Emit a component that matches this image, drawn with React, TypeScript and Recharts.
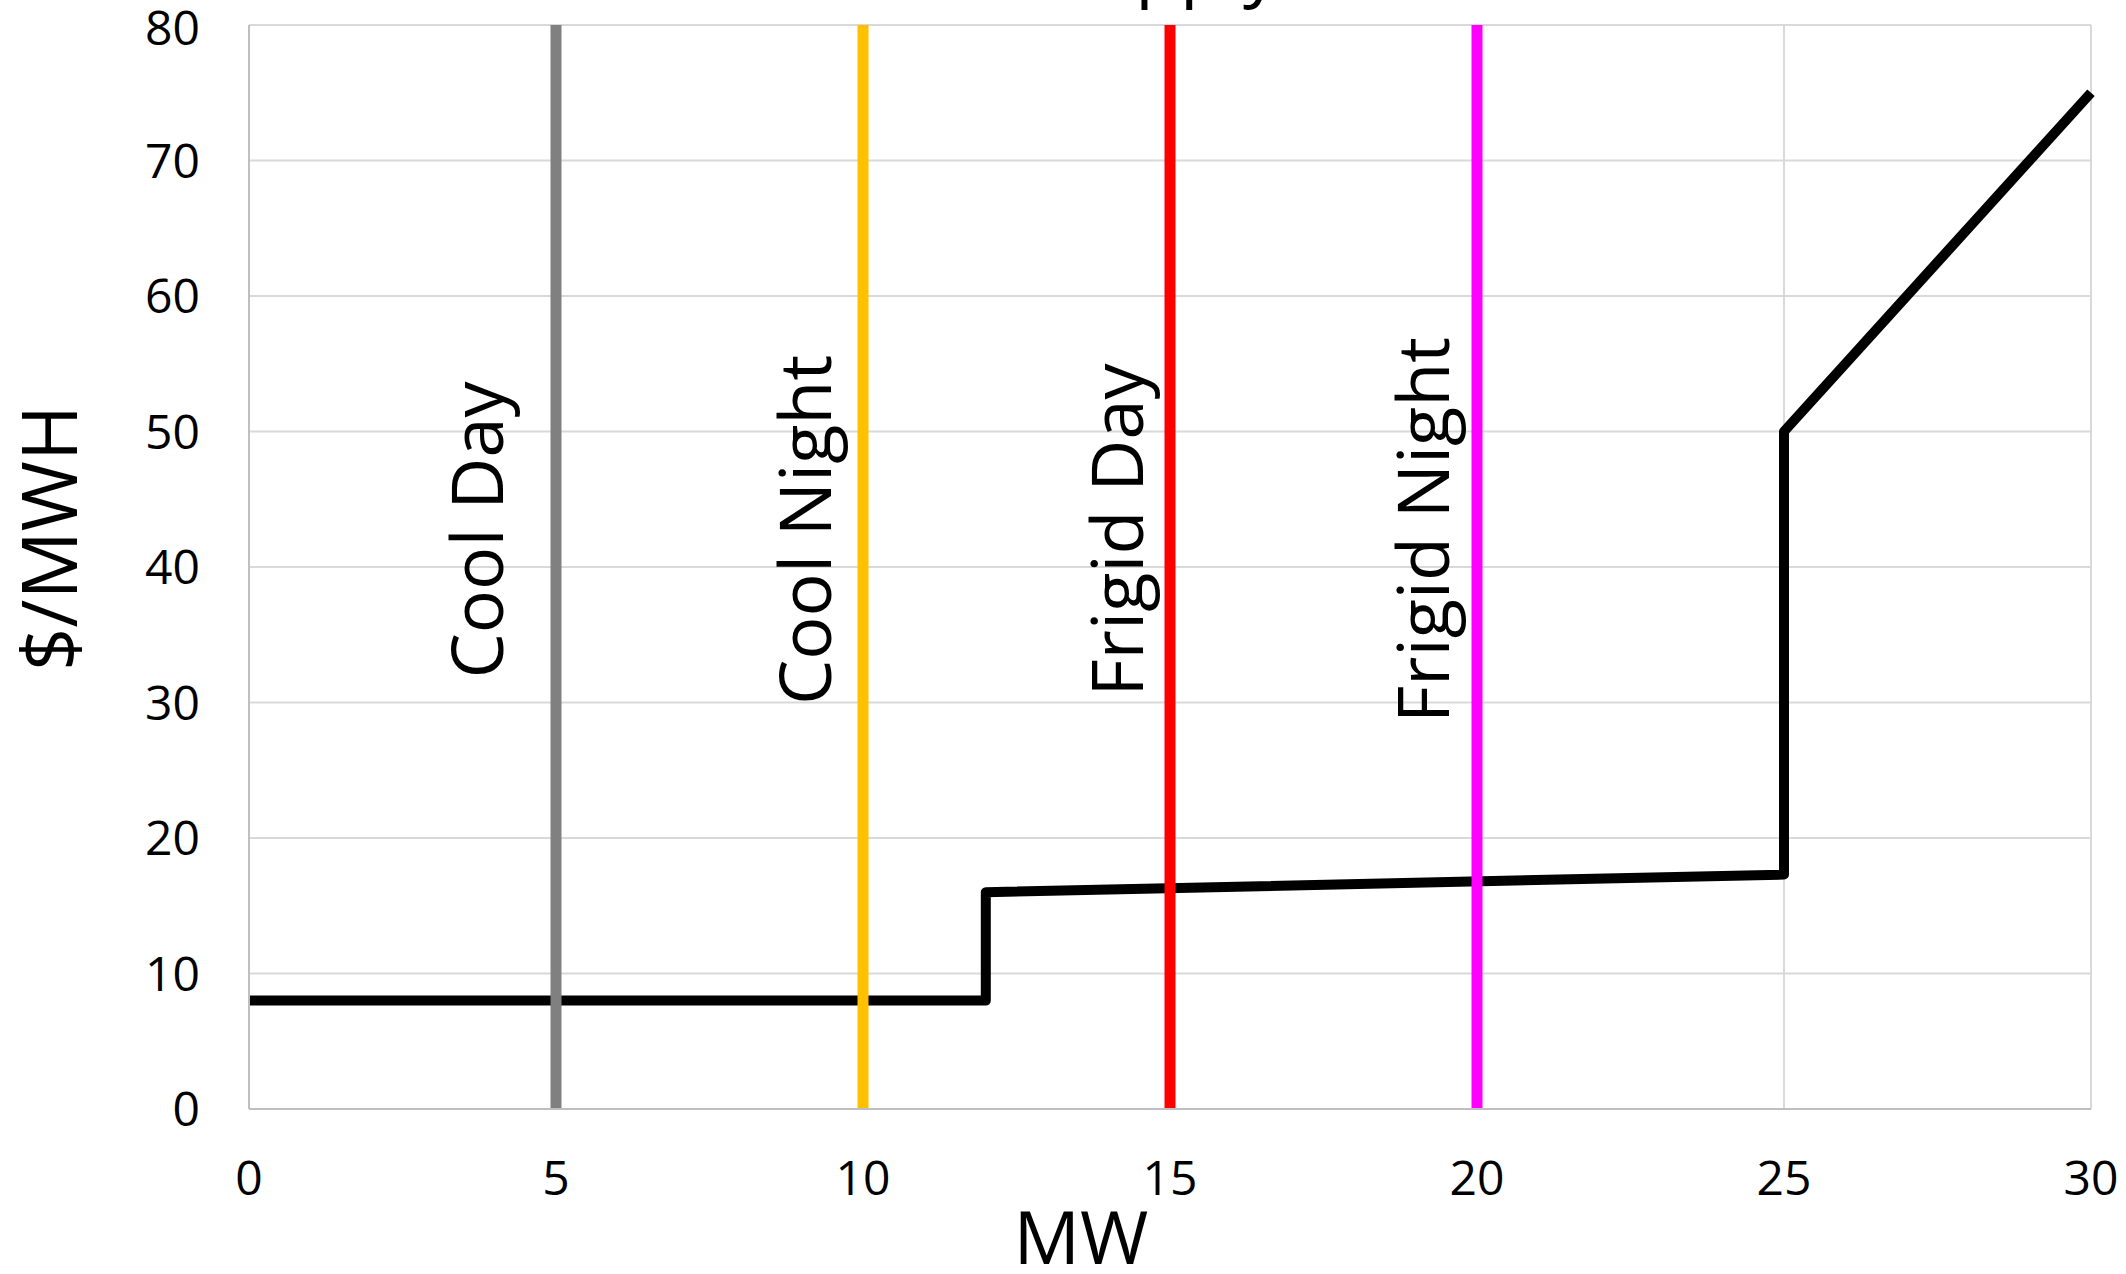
import { LineChart, Line, XAxis, YAxis, CartesianGrid, ReferenceLine, Label } from 'recharts';

// supply curve breakpoints
const mwPoints = [0, 12, 12, 25, 25, 30];
const pricePoints = [8, 8, 16, 17.3, 50, 75];

// demand scenarios
const demandMw = [5, 10, 15, 20];
const demandNames = ['Cool Day', 'Cool Night', 'Frigid Day', 'Frigid Night'];

const xTicks = [0, 5, 10, 15, 20, 25, 30];
const yTicks = [0, 10, 20, 30, 40, 50, 60, 70, 80];

const demandColors = ['#808080', '#FFC000', '#FF0000', '#FF00FF'];
// how far each rotated label sits to the left of its line (px)
const labelShift = [-53, -32, -27, -28];

const FONT = '"Open Sans", sans-serif';

const supplyData = mwPoints.map((mw, i) => ({ mw, price: pricePoints[i] }));

function DemandLabel({ viewBox, text, shift }: any) {
  const x = viewBox.x + shift;
  const y = viewBox.y + viewBox.height / 2 - 37;
  return (
    <text
      x={x}
      y={y}
      transform={`rotate(-90 ${x} ${y})`}
      textAnchor="middle"
      fontSize={72}
      fontFamily={FONT}
      fill="#000"
    >
      {text}
    </text>
  );
}

function YTitle({ viewBox }: any) {
  const x = viewBox.x + 77;
  const y = viewBox.y + viewBox.height / 2 - 29;
  return (
    <text
      x={x}
      y={y}
      transform={`rotate(-90 ${x} ${y})`}
      textAnchor="middle"
      fontSize={76}
      fontFamily={FONT}
      fill="#000"
    >
      $/MWH
    </text>
  );
}

function XTitle({ viewBox }: any) {
  return (
    <text
      x={viewBox.x + viewBox.width / 2 - 89}
      y={viewBox.y + 155}
      textAnchor="middle"
      fontSize={74}
      fontFamily={FONT}
      fill="#000"
    >
      MW
    </text>
  );
}

export default function App() {
  return (
    <div style={{ position: 'absolute', left: 0, top: 0, background: '#fff' }}>
      <LineChart
        width={2126}
        height={1274}
        data={supplyData}
        margin={{ top: 25, right: 35, bottom: 0, left: 0 }}
      >
        {/* title sits above the top edge, only its descenders show */}
        <text x={1165} y={-8} textAnchor="middle" fontSize={73} fontFamily={FONT} fill="#000">
          Supply
        </text>
        <CartesianGrid stroke="#d9d9d9" strokeWidth={2} />
        <XAxis
          type="number"
          dataKey="mw"
          domain={[0, 30]}
          ticks={xTicks}
          height={165}
          tickLine={false}
          tickSize={0}
          tickMargin={52}
          axisLine={{ stroke: '#bfbfbf', strokeWidth: 2 }}
          tick={{ fill: '#000', fontSize: 48, fontFamily: FONT }}
        >
          <Label content={(p: any) => <XTitle viewBox={p.viewBox} />} />
        </XAxis>
        <YAxis
          type="number"
          domain={[0, 80]}
          ticks={yTicks}
          width={249}
          tickLine={false}
          tickSize={0}
          tickMargin={49}
          axisLine={{ stroke: '#bfbfbf', strokeWidth: 2 }}
          tick={{ fill: '#000', fontSize: 48, fontFamily: FONT }}
        >
          <Label content={(p: any) => <YTitle viewBox={p.viewBox} />} />
        </YAxis>
        <Line
          type="linear"
          dataKey="price"
          stroke="#000"
          strokeWidth={10}
          strokeLinejoin="round"
          dot={false}
          activeDot={false}
          isAnimationActive={false}
        />
        {demandMw.map((mw, i) => (
          <ReferenceLine key={mw} x={mw} stroke={demandColors[i]} strokeWidth={11}>
            <Label
              content={(p: any) => (
                <DemandLabel viewBox={p.viewBox} text={demandNames[i]} shift={labelShift[i]} />
              )}
            />
          </ReferenceLine>
        ))}
      </LineChart>
    </div>
  );
}
